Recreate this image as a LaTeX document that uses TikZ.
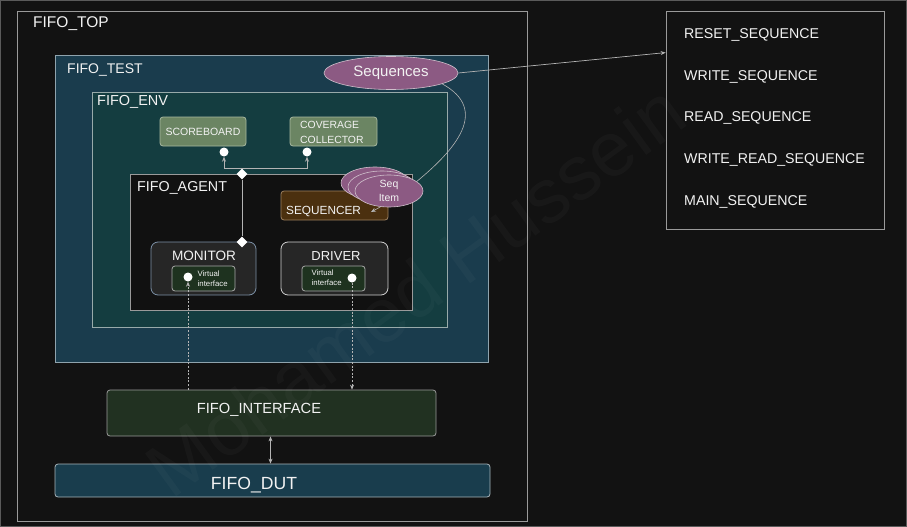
\documentclass[tikz,border=0pt]{standalone}
\usepackage{fontspec}
\setmainfont{Liberation Sans}
\usetikzlibrary{arrows.meta,shapes.geometric}
\definecolor{bg}{HTML}{121212}
\definecolor{edgezero}{HTML}{5A5A5A}
\definecolor{bordgray}{HTML}{9A9A9A}
\definecolor{testfill}{HTML}{1A3C4D}
\definecolor{testbord}{HTML}{8FA3AD}
\definecolor{envfill}{HTML}{143D40}
\definecolor{envbord}{HTML}{98AAAA}
\definecolor{agentfill}{HTML}{111111}
\definecolor{greenbox}{HTML}{6B8563}
\definecolor{greenbord}{HTML}{A8B8A0}
\definecolor{seqrfill}{HTML}{4B300F}
\definecolor{seqrbord}{HTML}{9C8060}
\definecolor{mauve}{HTML}{8C5A83}
\definecolor{ellbord}{HTML}{D0C0CC}
\definecolor{modfill}{HTML}{262626}
\definecolor{monbord}{HTML}{7C90A6}
\definecolor{drvbord}{HTML}{D0D0D0}
\definecolor{vifill}{HTML}{1E321F}
\definecolor{vibord}{HTML}{A8A8A8}
\definecolor{intffill}{HTML}{213121}
\definecolor{dutfill}{HTML}{193D4D}
\definecolor{dutbord}{HTML}{A8B4BA}
\definecolor{txt}{HTML}{F2F2F2}
\definecolor{lnc}{HTML}{B4B4B4}
\tikzset{
  lbl/.style={text=txt, inner sep=0pt, font=\fontsize{14}{16}\selectfont},
  contbox/.style={draw=#1, line width=0.8pt, inner sep=0pt},
  rbox/.style={draw=#1, rounded corners=3pt, line width=0.8pt, inner sep=0pt},
  conn/.style={draw=lnc, line width=0.7pt},
  dashconn/.style={draw=lnc, line width=0.6pt, dash pattern=on 2pt off 1.6pt},
  arrowend/.style={-{Stealth[length=5pt,width=4pt]}},
  lolli/.style={circle, fill=white, inner sep=0pt, minimum size=9pt},
  dmd/.style={diamond, fill=white, inner sep=0pt, minimum width=11pt, minimum height=11pt},
  seqell/.style={ellipse, draw=ellbord, line width=0.6pt, fill=mauve, inner sep=0pt, text=txt, minimum width=68pt, minimum height=32pt},
  vitext/.style={text=txt, inner sep=0pt, anchor=west, align=left, font=\fontsize{7.8}{10}\selectfont},
  seqtext/.style={text=txt, inner sep=0pt, anchor=west, font=\fontsize{14.2}{16}\selectfont},
}
\begin{document}
\begin{tikzpicture}[x=1pt,y=-1pt]
\fill[bg] (0,0) rectangle (907,527);
\useasboundingbox (0,0) rectangle (907,527);
\draw[edgezero, line width=1pt] (0.5,0.5) rectangle (906.5,526.5);

% containers
\node[contbox=bordgray, fill=bg, minimum width=510pt, minimum height=510pt] (top) at (272,266) {};
\node[lbl, anchor=west, font=\fontsize{15.5}{18}\selectfont] (toplbl) at (33,24) {FIFO\_TOP};
\node[contbox=testbord, fill=testfill, minimum width=433pt, minimum height=307pt] (test) at (271.5,208.5) {};
\node[lbl, anchor=west] (testlbl) at (67,70) {FIFO\_TEST};
\node[contbox=envbord, fill=envfill, minimum width=355pt, minimum height=235pt] (env) at (269.5,209.5) {};
\node[lbl, anchor=west, font=\fontsize{14.5}{16}\selectfont] (envlbl) at (97,102) {FIFO\_ENV};
\node[contbox=bordgray, fill=agentfill, minimum width=282pt, minimum height=136pt] (agent) at (271,242) {};
\node[lbl, anchor=west, font=\fontsize{14.3}{16}\selectfont] (agentlbl) at (137,188) {FIFO\_AGENT};

% env components
\node[rbox=greenbord, fill=greenbox, minimum width=86pt, minimum height=29pt, text=txt, font=\fontsize{10.5}{14}\selectfont] (score) at (203,131.5) {SCOREBOARD};
\node[rbox=greenbord, fill=greenbox, minimum width=87pt, minimum height=29pt] (cov) at (333.5,131.5) {};
\node[text=txt, inner sep=0pt, anchor=west, align=left, font=\fontsize{10.4}{14.5}\selectfont] (covlbl) at (300,132.5) {COVERAGE\\COLLECTOR};

% agent components
\node[rbox=seqrbord, fill=seqrfill, minimum width=107pt, minimum height=29pt] (seqr) at (334.5,205.5) {};
\node[lbl, anchor=west, font=\fontsize{11.8}{14}\selectfont] (seqrlbl) at (286,211) {SEQUENCER};
\node[rbox=monbord, rounded corners=7pt, fill=modfill, minimum width=105pt, minimum height=53pt] (mon) at (203.5,268.5) {};
\node[lbl, font=\fontsize{13.6}{16}\selectfont] (monlbl) at (204,256) {MONITOR};
\node[rbox=drvbord, rounded corners=7pt, fill=modfill, minimum width=107pt, minimum height=53pt] (drv) at (334.5,268.5) {};
\node[lbl, font=\fontsize{13}{16}\selectfont] (drvlbl) at (336,256) {DRIVER};
\node[rbox=vibord, fill=vifill, minimum width=63pt, minimum height=25pt] (vim) at (203.5,278.5) {};
\node[vitext] (vimlbl) at (197.5,279) {Virtual\\interface};
\node[rbox=vibord, fill=vifill, minimum width=63pt, minimum height=25pt] (vid) at (333.5,278.5) {};
\node[vitext] (vidlbl) at (311.5,278) {Virtual\\interface};

% bottom blocks
\node[rbox=bordgray, fill=intffill, minimum width=329pt, minimum height=46pt] (intf) at (271.5,413) {};
\node[lbl, font=\fontsize{14.7}{16}\selectfont] (intflbl) at (259,410) {FIFO\_INTERFACE};
\node[rbox=dutbord, fill=dutfill, minimum width=435pt, minimum height=33pt] (dut) at (272.5,480.5) {};
\node[lbl, font=\fontsize{17.6}{20}\selectfont] (dutlbl) at (254,485) {FIFO\_DUT};

% sequence list
\node[contbox=bordgray, fill=bg, minimum width=218pt, minimum height=218pt] (list) at (775,120) {};
\node[seqtext] (s1) at (684,35) {RESET\_SEQUENCE};
\node[seqtext] (s2) at (684,77) {WRITE\_SEQUENCE};
\node[seqtext] (s3) at (684,118) {READ\_SEQUENCE};
\node[seqtext] (s4) at (684,160) {WRITE\_READ\_SEQUENCE};
\node[seqtext] (s5) at (684,202) {MAIN\_SEQUENCE};

% ports
\node[lolli] (ci1) at (224,152) {};
\node[lolli] (ci2) at (307,152) {};
\node[lolli] (cim) at (188,277) {};
\node[lolli] (cid) at (352,278) {};
\node[dmd] (dA) at (242,174) {};
\node[dmd] (dM) at (242,242) {};

% connectors
\draw[conn, arrowend] (dA.north) -| (ci1.south);
\draw[conn, arrowend] (dA.north) -| (ci2.south);
\draw[conn] (dA.south) -- (dM.north);
\draw[dashconn, arrowend] (intf.north -| cim) -- (cim.south);
\draw[dashconn, arrowend] (cid.south) -- (cid.south |- intf.north);
\draw[conn, line width=0.6pt, {Stealth[length=5pt,width=4pt]}-{Stealth[length=5pt,width=4pt]}] ([xshift=-1pt]intf.south) -- ([xshift=-1pt]intf.south |- dut.north);

% sequences and items
\node[seqell, minimum width=134pt, minimum height=33pt, font=\fontsize{15}{18}\selectfont] (seqs) at (391,73) {Sequences};
\node[seqell] (item3) at (375,183) {};
\node[seqell] (item2) at (382,187) {};
\node[seqell, align=center, font=\fontsize{10.5}{14}\selectfont] (item1) at (389,191) {Seq\\Item};
\coordinate (seqin) at (371,212);
\draw[conn, line width=0.6pt, arrowend] (item1.-118) -- (seqin);
\draw[conn, line width=0.6pt] (seqs.-12) .. controls (490,110) and (455,150) .. (item1.19);
\draw[conn, line width=0.7pt, arrowend] (seqs.east) -- ([yshift=-42pt]list.north west);

% watermark
\node[text=white, opacity=0.028, rotate=36, inner sep=0pt, font=\fontsize{77}{80}\selectfont] (wm) at (415,290) {Mohamed Hussein};
\end{tikzpicture}
\end{document}
